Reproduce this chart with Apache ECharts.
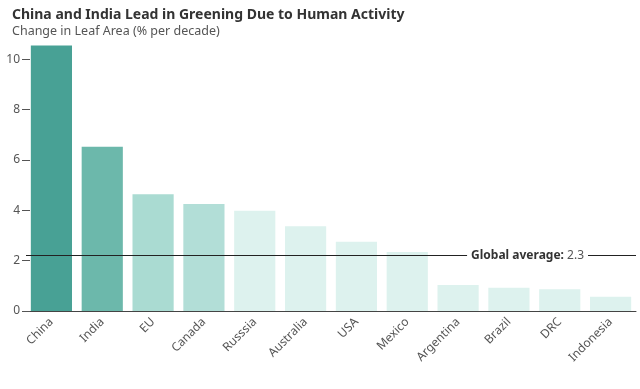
<!DOCTYPE html>
<html><head><meta charset="utf-8">
<script src="https://cdn.jsdelivr.net/npm/echarts@6/dist/echarts.min.js"></script>
<style>html,body{margin:0;padding:0;background:#fff}#c{width:640px;height:389px}</style>
</head><body><div id="c"></div>
<script>
const titleText = 'China and India Lead in Greening Due to Human Activity';
const subtitleText = 'Change in Leaf Area (% per decade)';
const categories = ['China','India','EU','Canada','Russsia','Australia','USA','Mexico','Argentina','Brazil','DRC','Indonesia'];
const leafChange = [10.54, 6.52, 4.64, 4.25, 3.98, 3.37, 2.75, 2.34, 1.03, 0.92, 0.86, 0.57];
const yTicks = [0, 2, 4, 6, 8, 10];
const globalAverageLine = 2.2;
const globalAverageText = '2.3';
const barColors = ['#48a195','#6cb8ab','#aadbd2','#b2ded7','#ddf2ee','#ddf2ee','#ddf2ee','#ddf2ee','#ddf2ee','#ddf2ee','#ddf2ee','#ddf2ee'];

const FONT = 'Noto Sans';
const chart = echarts.init(document.getElementById('c'));
chart.setOption({
  animation: false,
  textStyle: { fontFamily: FONT },
  title: [
    { text: titleText, left: 7, top: 3, textStyle: { fontFamily: FONT, fontWeight: 'bold', fontSize: 14, color: '#333' } },
    { text: subtitleText, left: 7, top: 20, textStyle: { fontFamily: FONT, fontWeight: 'normal', fontSize: 12.5, color: '#555' } }
  ],
  grid: { left: 26, right: 4, top: 34, bottom: 78 },
  xAxis: {
    type: 'category',
    data: categories,
    axisLine: { lineStyle: { color: '#444', width: 1 } },
    axisTick: { alignWithLabel: true, length: 6, lineStyle: { color: '#444' } },
    axisLabel: { rotate: 45, fontSize: 12, color: '#555', margin: 9, fontFamily: FONT }
  },
  yAxis: {
    type: 'value',
    min: 0, max: 11,
    offset: -4,
    splitLine: { show: false },
    axisLine: { show: false },
    axisTick: { show: true, length: 8, lineStyle: { color: '#555' }, customValues: yTicks },
    axisLabel: { fontSize: 12, color: '#555', margin: 10, customValues: yTicks, fontFamily: FONT }
  },
  series: [{
    type: 'bar',
    barWidth: '81%',
    data: leafChange.map((v, i) => ({ value: v, itemStyle: { color: barColors[i] } })),
    markLine: {
      symbol: 'none',
      silent: true,
      lineStyle: { color: '#222', width: 1, type: 'solid' },
      label: {
        position: 'insideEnd',
        distance: 48,
        backgroundColor: '#fff',
        padding: [2, 4],
        formatter: () => '{b|Global average:} {n|' + globalAverageText + '}',
        rich: {
          b: { fontWeight: 'bold', fontSize: 12, color: '#333', fontFamily: FONT },
          n: { fontSize: 12, color: '#555', fontFamily: FONT }
        }
      },
      data: [{ yAxis: globalAverageLine }]
    }
  }]
});
</script></body></html>
